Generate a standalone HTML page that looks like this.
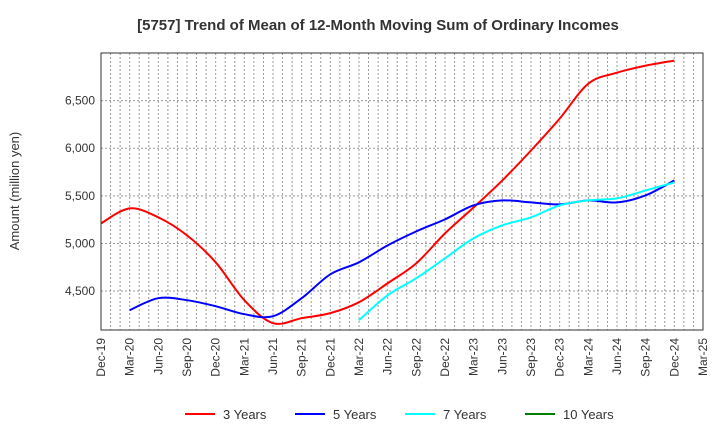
<!DOCTYPE html>
<html><head><meta charset="utf-8"><style>
body{margin:0;background:#fff;font-family:"Liberation Sans",Arial,sans-serif}
svg text{font-family:"Liberation Sans",Arial,sans-serif}
</style></head><body>
<svg id="c" width="720" height="440" xmlns="http://www.w3.org/2000/svg">
<text x="378" y="30" text-anchor="middle" font-size="15" font-weight="bold" fill="#333">[5757]  Trend of Mean of 12-Month Moving Sum of Ordinary Incomes</text>
<text transform="translate(19,191) rotate(-90)" text-anchor="middle" font-size="13" fill="#333">Amount (million yen)</text>
<g id="grid"></g><g id="series"></g><g id="axes"></g><g id="legend"></g>
</svg>
<script>
const xLabels=["Dec-19","Mar-20","Jun-20","Sep-20","Dec-20","Mar-21","Jun-21","Sep-21","Dec-21","Mar-22","Jun-22","Sep-22","Dec-22","Mar-23","Jun-23","Sep-23","Dec-23","Mar-24","Jun-24","Sep-24","Dec-24","Mar-25"];
const yTicks=[4500,5000,5500,6000,6500];
const yTickLabels=["4,500","5,000","5,500","6,000","6,500"];
const s3=[5211,5368,5274,5085,4802,4404,4163,4215,4268,4383,4582,4792,5106,5379,5662,5976,6311,6678,6793,6867,6920];
const s5=[null,4299,4425,4404,4341,4257,4236,4425,4676,4802,4980,5127,5253,5400,5452,5431,5410,5452,5431,5505,5662];
const s7=[null,null,null,null,null,null,null,null,null,4194,4456,4635,4844,5054,5190,5274,5400,5452,5473,5557,5641];
const s10=[];
const seriesNames=["3 Years","5 Years","7 Years","10 Years"];
const colors=["#ff0000","#0000ff","#00ffff","#008000"];
const L=101,R=703,T=53,B=330,yMin=4091,yMax=7000;
const xq=i=>L+(R-L)*i/21, y=v=>B-(v-yMin)/(yMax-yMin)*(B-T);
const NS="http://www.w3.org/2000/svg";
function mk(p,t,a){const e=document.createElementNS(NS,t);for(const k in a)e.setAttribute(k,a[k]);p.appendChild(e);return e;}
const g=document.getElementById('grid');
for(let m=1;m<63;m++){const x=L+(R-L)*m/63;const l=mk(g,'line',{x1:x,x2:x,y1:T,y2:B,stroke:'#999','stroke-dasharray':'2,2','stroke-width':1});

}
yTicks.forEach((v,i)=>{const l=mk(g,'line',{x1:L,x2:R,y1:y(v),y2:y(v),stroke:'#999','stroke-dasharray':'2,2','stroke-width':1});


const t=mk(g,'text',{x:L-6,y:y(v)+4,'text-anchor':'end','font-size':12,fill:'#333'});t.textContent=yTickLabels[i];

});
xLabels.forEach((s,i)=>{const x=xq(i);const t=mk(g,'text',{transform:`translate(${x+4},${B+8}) rotate(-90)`,'text-anchor':'end','font-size':12,fill:'#333'});t.textContent=s;

});
const ax=mk(document.getElementById('axes'),'rect',{x:L,y:T,width:R-L,height:B-T,fill:'none',stroke:'#333','stroke-width':1});


function path(arr){const pts=[];arr.forEach((v,i)=>{if(v!=null)pts.push([xq(i),y(v)]);});if(pts.length<2)return '';
let d=`M${pts[0][0]},${pts[0][1]}`;for(let i=0;i<pts.length-1;i++){const p0=pts[Math.max(0,i-1)],p1=pts[i],p2=pts[i+1],p3=pts[Math.min(pts.length-1,i+2)];
d+=`C${p1[0]+(p2[0]-p0[0])/6},${p1[1]+(p2[1]-p0[1])/6} ${p2[0]-(p3[0]-p1[0])/6},${p2[1]-(p3[1]-p1[1])/6} ${p2[0]},${p2[1]}`;}return d;}
const sg=document.getElementById('series');
[s3,s5,s7,s10].forEach((s,k)=>{const d=path(s);if(!d)return;const p=mk(sg,'path',{d:d,fill:'none',stroke:colors[k],'stroke-width':2});

});
const lg=document.getElementById('legend');const lx=[185,295,405,525];
seriesNames.forEach((n,k)=>{const l=mk(lg,'line',{x1:lx[k],x2:lx[k]+30,y1:414,y2:414,stroke:colors[k],'stroke-width':2});


const t=mk(lg,'text',{x:lx[k]+38,y:419,'font-size':13,fill:'#333'});t.textContent=n;

});
</script>
</body></html>
